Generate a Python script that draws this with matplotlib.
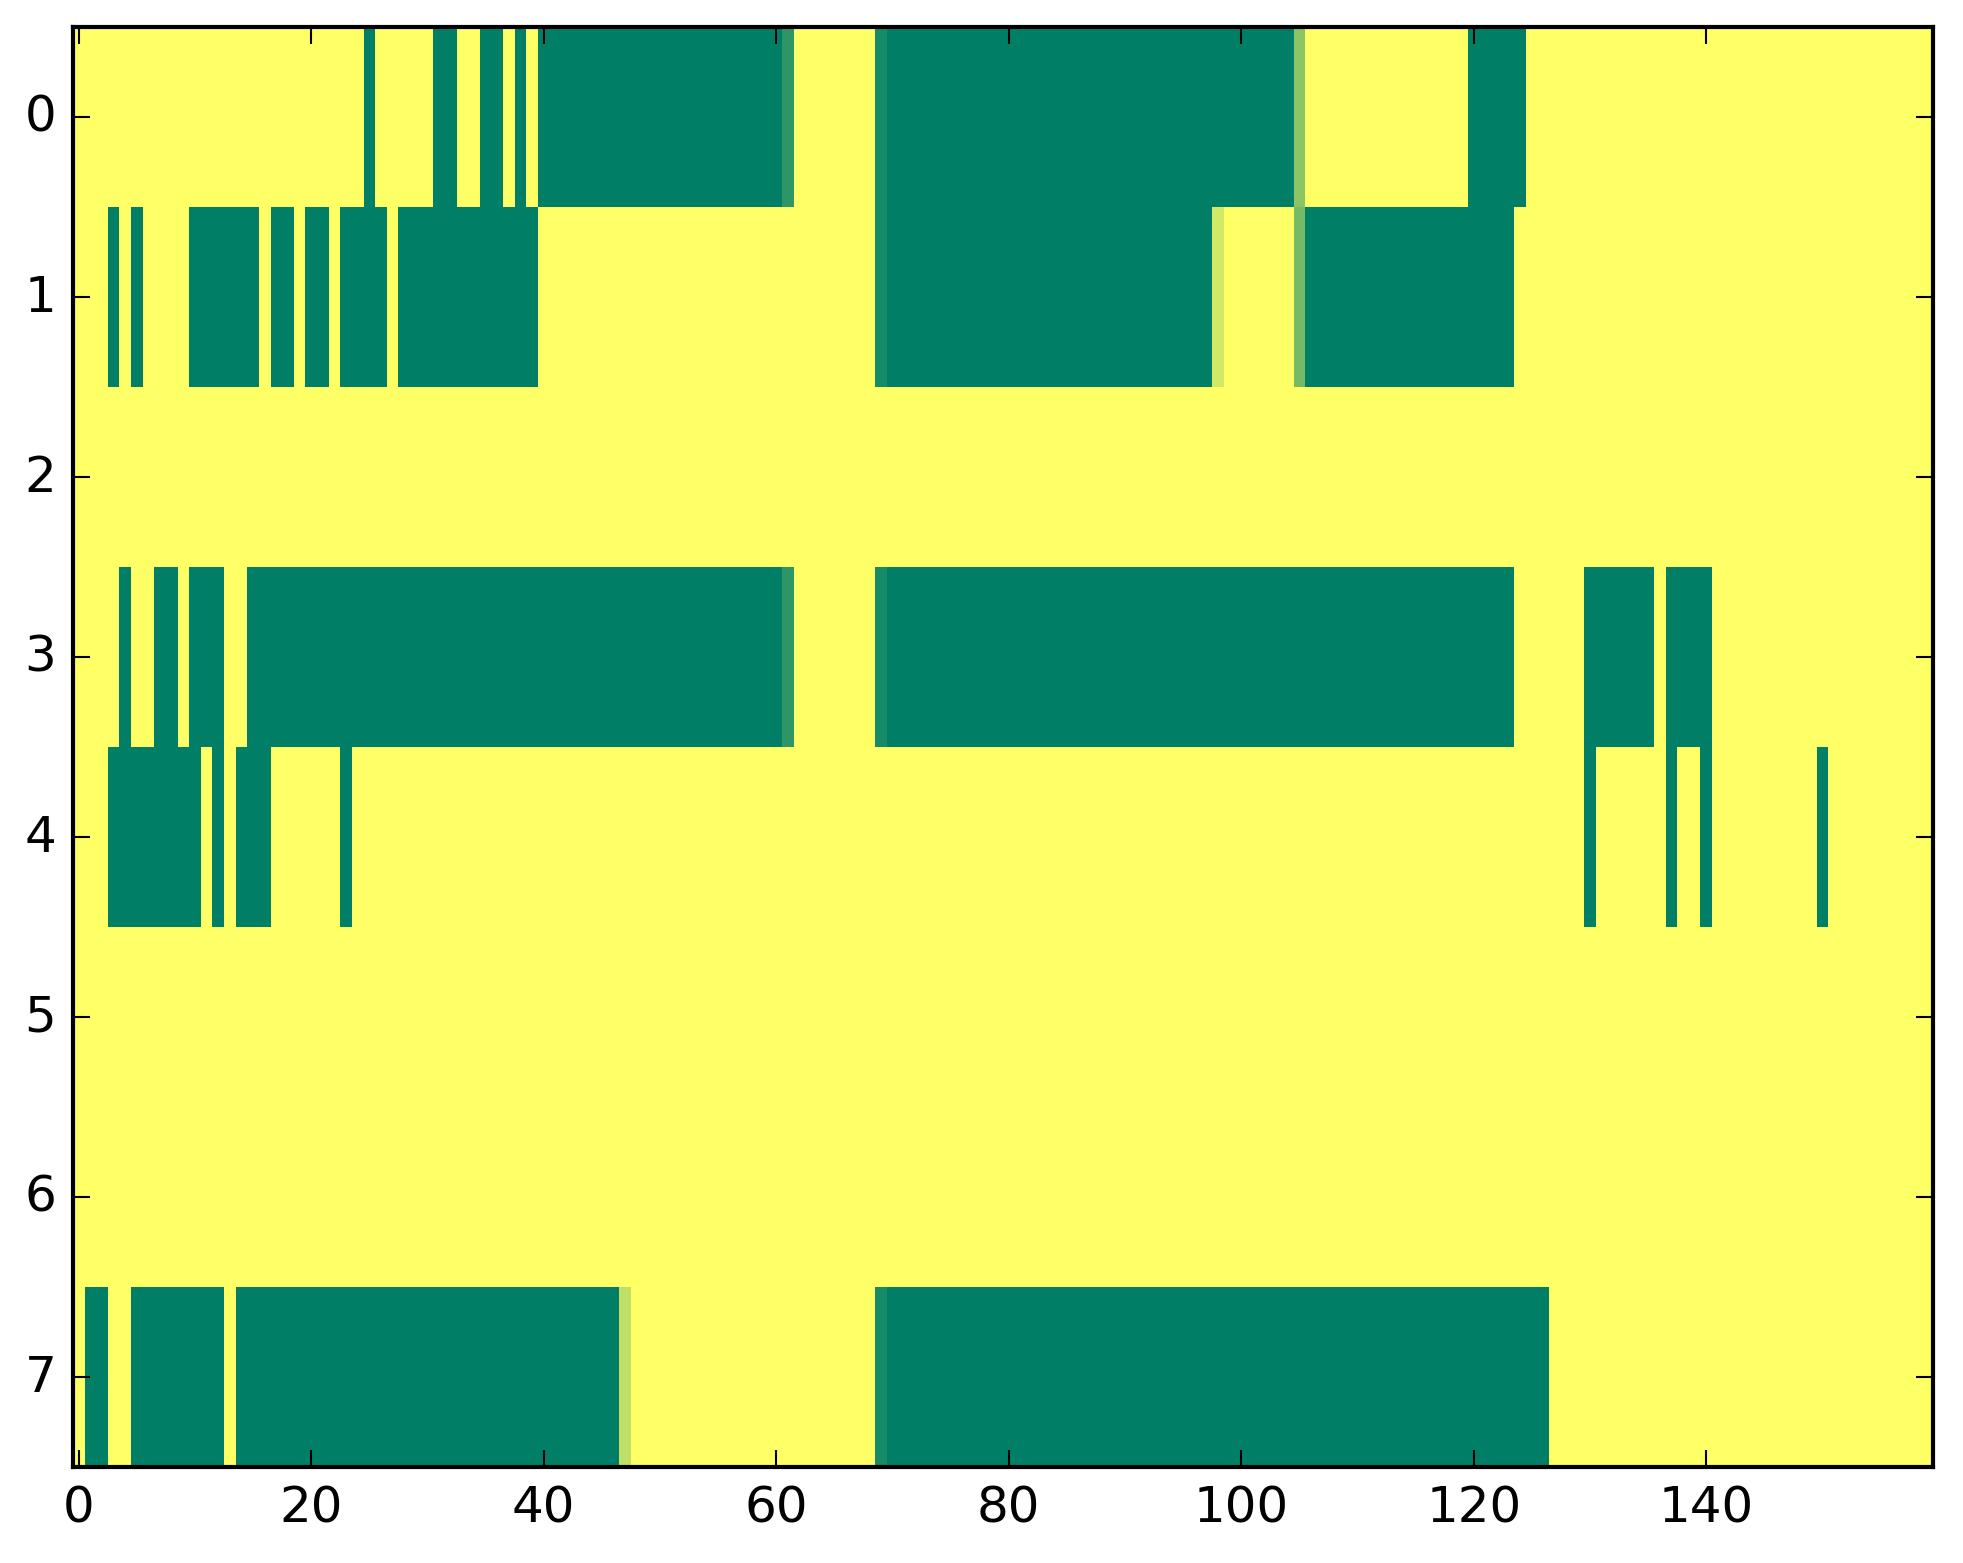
import numpy as np
import matplotlib
matplotlib.use('Agg')
import matplotlib.pyplot as plt

plt.style.use('classic')

n_rows = 8
n_cols = 160

# green (value 0) runs per row, inclusive column ranges
green_runs = [
    [(25, 25), (31, 32), (35, 36), (38, 38), (40, 60), (70, 104), (120, 124)],
    [(3, 3), (5, 5), (10, 15), (17, 18), (20, 21), (23, 26), (28, 39), (70, 97), (106, 123)],
    [],
    [(4, 4), (7, 8), (10, 12), (15, 60), (70, 123), (130, 135), (137, 140)],
    [(3, 10), (12, 12), (14, 16), (23, 23), (130, 130), (137, 137), (140, 140), (150, 150)],
    [],
    [],
    [(1, 2), (5, 12), (14, 46), (70, 126)],
]

# cells with in-between values (row, col, value)
partial_cells = [
    (0, 61, 0.18), (0, 69, 0.09), (0, 105, 0.55),
    (1, 69, 0.09), (1, 98, 0.83), (1, 105, 0.46),
    (3, 61, 0.18), (3, 69, 0.09),
    (7, 47, 0.75), (7, 69, 0.09),
]

grid = np.ones((n_rows, n_cols))
for r, runs in enumerate(green_runs):
    for a, b in runs:
        grid[r, a:b + 1] = 0.0
for r, c, v in partial_cells:
    grid[r, c] = v

W, H = 1963, 1564
fig = plt.figure(figsize=(W / 300, H / 300), facecolor='white')
ax = fig.add_axes([73 / W, 96 / H, 1860 / W, 1440 / H])
ax.imshow(grid, cmap='summer', vmin=0, vmax=1, aspect='auto', interpolation='nearest')
ax.set_xticks(range(0, 141, 20))
ax.set_yticks(range(0, 8))

plt.savefig('out.png', dpi=300, facecolor='white')
